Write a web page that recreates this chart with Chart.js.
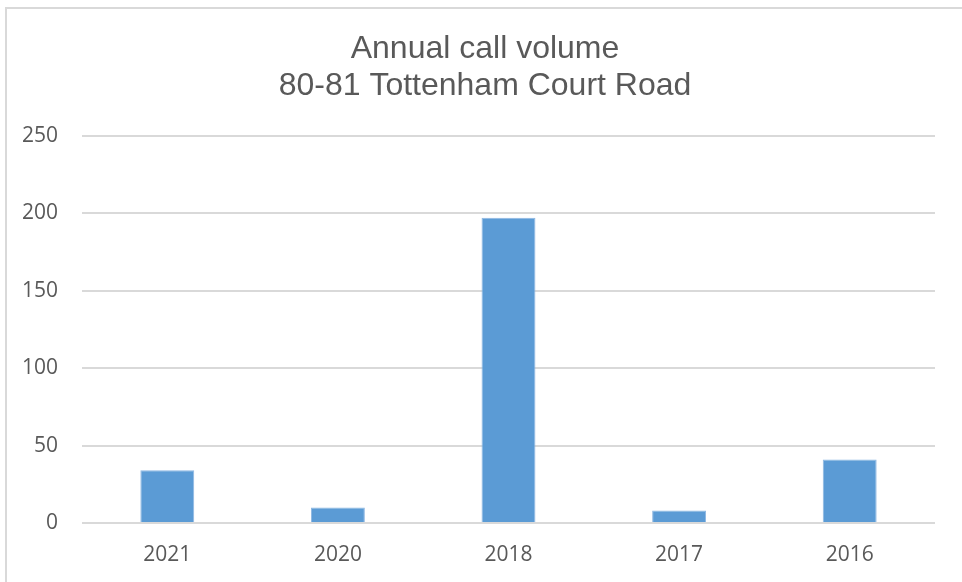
<!DOCTYPE html>
<html>
<head>
<meta charset="utf-8">
<script src="https://cdn.jsdelivr.net/npm/chart.js@4"></script>
<style>
  html, body { margin: 0; padding: 0; background: #fff; }
  #wrap { width: 962px; height: 582px; }
</style>
</head>
<body>
<div id="wrap"><canvas id="callChart" width="962" height="582"></canvas></div>
<script>
const years = ["2021", "2020", "2018", "2017", "2016"];
const calls = [34, 10, 197, 8, 41];
const titleLines = ["Annual call volume", "80-81 Tottenham Court Road"];

// light grey frame round the chart (top and left edges show),
// and nudge the title box so its centre sits where the original's does
const framePlugin = {
  id: "frame",
  afterLayout(chart) {
    if (chart.titleBlock) chart.titleBlock.left = 35;
  },
  beforeDraw(chart) {
    const ctx = chart.ctx;
    ctx.save();
    ctx.fillStyle = "#d9d9d9";
    ctx.fillRect(5, 7, chart.width - 5, 2);
    ctx.fillRect(5, 7, 2, chart.height - 7);
    ctx.restore();
  }
};

new Chart(document.getElementById("callChart"), {
  type: "bar",
  data: {
    labels: years,
    datasets: [{
      data: calls,
      backgroundColor: "#5b9bd5",
      borderColor: "#8db7e2",
      borderWidth: 1,
      barPercentage: 0.316,
      categoryPercentage: 1
    }]
  },
  options: {
    responsive: false,
    animation: false,
    layout: { padding: { left: 0, right: 27, top: 0, bottom: 0 } },
    plugins: {
      legend: { display: false },
      tooltip: { enabled: false },
      title: {
        display: true,
        text: titleLines,
        color: "#595959",
        font: { family: "'Liberation Sans', Arial", size: 32, weight: "normal", lineHeight: 1.15 },
        padding: { top: 31, bottom: 31 }
      }
    },
    scales: {
      x: {
        grid: { display: false },
        border: { display: false },
        ticks: {
          color: "#595959",
          font: { family: "'Open Sans'", size: 21 },
          padding: 11
        },
        afterFit(scale) { scale.height = 59; }
      },
      y: {
        min: 0,
        max: 250,
        grid: { color: "#d9d9d9", lineWidth: 2, drawTicks: false },
        border: { display: false },
        ticks: {
          stepSize: 50,
          color: "#595959",
          font: { family: "'Open Sans'", size: 21 },
          padding: 24
        },
        afterFit(scale) { scale.width = 82; }
      }
    }
  },
  plugins: [framePlugin]
});
</script>
</body>
</html>
